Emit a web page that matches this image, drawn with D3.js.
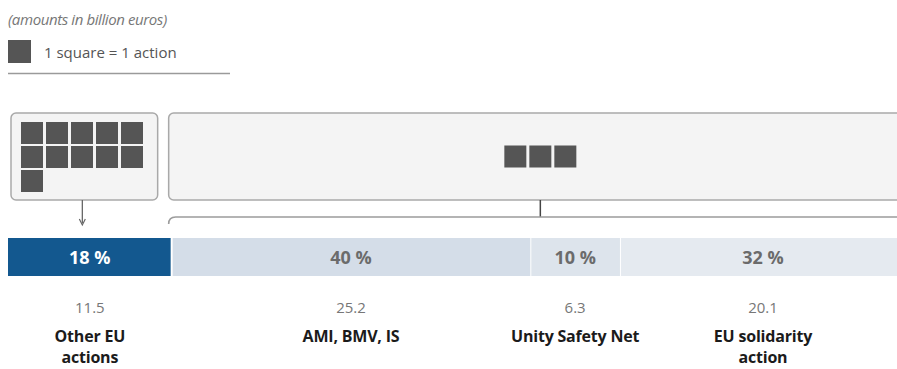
<!DOCTYPE html>
<html>
<head>
<meta charset="utf-8">
<script src="https://cdn.jsdelivr.net/npm/d3@7"></script>
<style>
  html, body { margin: 0; padding: 0; background: #fff; }
  svg { display: block; }
  text { font-family: "Open Sans", "Noto Sans", sans-serif; }
</style>
</head>
<body>
<svg id="chart" width="897" height="369"></svg>
<script>
// Budget split (billion euros) across the four funding lines
const categories = ["Other EU actions", "AMI, BMV, IS", "Unity Safety Net", "EU solidarity action"];
const categoryLines = [["Other EU", "actions"], ["AMI, BMV, IS"], ["Unity Safety Net"], ["EU solidarity", "action"]];
const amounts = [11.5, 25.2, 6.3, 20.1];
const shares = [18, 40, 10, 32];
const segmentColors = ["#13588f", "#d4dde8", "#dde4ec", "#e5eaf0"];
const shareLabelColors = ["#ffffff", "#6b6b6b", "#6b6b6b", "#6b6b6b"];

// Action groups: which categories each box covers and how many actions it holds
const groupFirst = [0, 1];
const groupLast = [0, 3];
const groupActions = [11, 3];

const svg = d3.select("#chart");
const total = d3.sum(amounts);
const x = d3.scaleLinear().domain([0, total]).range([8, 906]);
const ends = Array.from(d3.cumsum(amounts));
const starts = ends.map((e, i) => e - amounts[i]);

// Header note and legend
svg.append("text")
  .attr("x", 8).attr("y", 25)
  .attr("font-size", 15).attr("font-style", "italic").attr("fill", "#777")
  .attr("letter-spacing", -0.4)
  .text("(amounts in billion euros)");

svg.append("rect")
  .attr("x", 8).attr("y", 40).attr("width", 23).attr("height", 23)
  .attr("fill", "#555");
svg.append("text")
  .attr("x", 44).attr("y", 58)
  .attr("font-size", 15).attr("fill", "#555")
  .text("1 square = 1 action");
svg.append("line")
  .attr("x1", 8).attr("x2", 230).attr("y1", 73.5).attr("y2", 73.5)
  .attr("stroke", "#9a9a9a").attr("stroke-width", 1.3);

// Action boxes
const boxTop = 113, boxBottom = 200;
const sq = 22, pitchX = 25, pitchY = 24, perRow = 5;
const boxes = groupFirst.map((f, i) => {
  const left = i === 0 ? x(starts[f]) + 3 : x(starts[f]) - 3;
  const right = i === 0 ? x(ends[groupLast[i]]) - 14 : x(ends[groupLast[i]]) + 6;
  return { left, right, count: groupActions[i], index: i };
});

const boxG = svg.append("g");
boxG.selectAll("rect.box").data(boxes).join("rect")
  .attr("class", "box")
  .attr("x", d => d.left).attr("y", boxTop)
  .attr("width", d => d.right - d.left).attr("height", boxBottom - boxTop)
  .attr("rx", 5)
  .attr("fill", "#f4f4f4").attr("stroke", "#a9a9a9").attr("stroke-width", 1.5);

boxes.forEach(b => {
  const cells = d3.range(b.count);
  let ox, oy;
  if (b.index === 0) {
    ox = b.left + 10; oy = boxTop + 9;
  } else {
    const w = b.count * pitchX - (pitchX - sq);
    ox = (b.left + b.right) / 2 - w / 2;
    oy = (boxTop + boxBottom) / 2 - sq / 2;
  }
  boxG.selectAll(null).data(cells).join("rect")
    .attr("x", k => ox + (k % perRow) * pitchX)
    .attr("y", k => oy + Math.floor(k / perRow) * pitchY)
    .attr("width", sq).attr("height", sq)
    .attr("fill", "#555");
});

// Arrow from the first box down to its segment
const b0 = boxes[0];
const ax = (b0.left + b0.right) / 2 - 2;
svg.append("line")
  .attr("x1", ax).attr("x2", ax).attr("y1", boxBottom).attr("y2", 223)
  .attr("stroke", "#666").attr("stroke-width", 1.3);
svg.append("path")
  .attr("d", `M${ax - 3},${219} L${ax},${225} L${ax + 3},${219}`)
  .attr("fill", "none").attr("stroke", "#666").attr("stroke-width", 1.2);

// Bracket from the second box over the remaining segments
const b1 = boxes[1];
const cx = (b1.left + b1.right) / 2;
const by = 217;
svg.append("line")
  .attr("x1", cx).attr("x2", cx).attr("y1", boxBottom).attr("y2", by)
  .attr("stroke", "#444").attr("stroke-width", 1.5);
svg.append("path")
  .attr("d", `M${b1.left},${by + 7} Q${b1.left},${by} ${b1.left + 7},${by} H${b1.right + 20}`)
  .attr("fill", "none").attr("stroke", "#9c9c9c").attr("stroke-width", 1.6);

// Stacked bar
const barTop = 238, barH = 38;
svg.selectAll("rect.seg").data(amounts).join("rect")
  .attr("class", "seg")
  .attr("x", (d, i) => x(starts[i]) + (i > 0 ? 1 : 0))
  .attr("y", barTop)
  .attr("width", (d, i) => x(ends[i]) - x(starts[i]) - (i > 0 ? 1 : 0) - (i === 0 ? 1 : 0))
  .attr("height", barH)
  .attr("fill", (d, i) => segmentColors[i]);

const mid = i => (x(starts[i]) + x(ends[i])) / 2;

svg.selectAll("text.share").data(shares).join("text")
  .attr("class", "share")
  .attr("x", (d, i) => mid(i)).attr("y", 264)
  .attr("text-anchor", "middle")
  .attr("font-size", 18).attr("font-weight", 700)
  .attr("fill", (d, i) => shareLabelColors[i])
  .text(d => `${d} %`);

svg.selectAll("text.amount").data(amounts).join("text")
  .attr("class", "amount")
  .attr("x", (d, i) => mid(i)).attr("y", 313)
  .attr("text-anchor", "middle")
  .attr("font-size", 15).attr("fill", "#777")
  .text(d => d3.format(".1f")(d));

svg.selectAll("text.cat").data(categories).join("text")
  .attr("class", "cat")
  .attr("x", (d, i) => mid(i)).attr("y", 342)
  .attr("text-anchor", "middle")
  .attr("font-size", 16).attr("font-weight", 700).attr("fill", "#1b1b1b")
  .attr("letter-spacing", -0.2)
  .each(function (d, i) {
    d3.select(this).selectAll("tspan").data(categoryLines[i]).join("tspan")
      .attr("x", mid(i))
      .attr("dy", (t, j) => (j === 0 ? 0 : 21))
      .text(t => t);
  });
</script>
</body>
</html>
